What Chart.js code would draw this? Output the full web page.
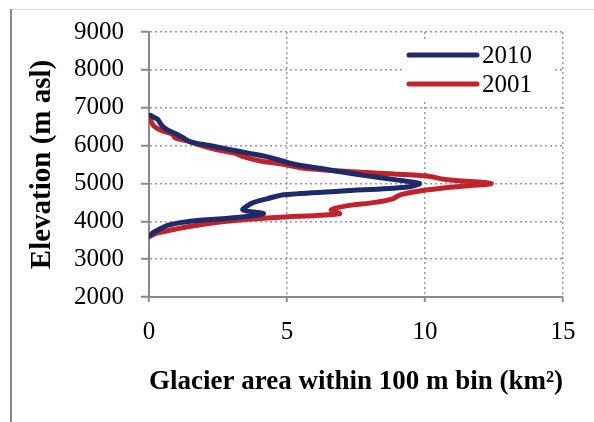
<!DOCTYPE html>
<html><head><meta charset="utf-8">
<style>
html,body{margin:0;padding:0;background:#fff;}
#wrap{position:relative;width:594px;height:422px;}
canvas{display:block;}
</style>
<script src="https://cdn.jsdelivr.net/npm/chart.js@4/dist/chart.umd.min.js"></script>
</head><body>
<div id="wrap"><canvas id="c" width="594" height="422"></canvas></div>
<script>
const elevations = [3600,3700,3800,3900,4000,4100,4200,4300,4400,4500,4600,4700,4800,4900,5000,5100,5200,5300,5400,5500,5600,5700,5800,5900,6000,6100,6200,6300,6400,6500,6600,6700,6800];
const area2010 = [0.0,0.15,0.4,0.7,1.5,3.2,4.15,3.4,3.55,3.8,4.3,4.9,7.0,9.3,9.8,8.9,7.9,7.0,6.2,5.3,4.8,4.3,3.6,2.9,2.2,1.5,1.25,1.0,0.7,0.5,0.4,0.3,0.05];
const area2001 = [0.0,0.35,1.0,1.8,2.8,4.6,6.9,6.6,7.1,8.2,8.85,9.1,9.8,10.9,12.4,10.8,10.0,7.5,5.6,4.9,4.0,3.45,3.1,2.4,1.9,1.5,0.95,0.85,0.45,0.2,0.1,0.05,null];
const seriesNames = ['2010','2001'];
const seriesColors = ['#1f2b68','#c0232b'];
const xTicks = [0,5,10,15];
const yTicks = [2000,3000,4000,5000,6000,7000,8000,9000];
const xTitle = 'Glacier area within 100 m bin (km²)';
const yTitle = 'Elevation (m asl)';

function pts(arr){
  const out=[];
  arr.forEach((v,i)=>{ if(v!==null) out.push({x:v,y:elevations[i]}); });
  return out;
}

const FONT='"Liberation Serif", "Times New Roman", serif';
const PAD={left:25,right:31,top:19,bottom:20};

const frame = {
  id:'frame',
  beforeDraw(chart){
    const ctx=chart.ctx;
    ctx.save();
    ctx.fillStyle='#fff';
    ctx.fillRect(0,0,chart.width,chart.height);
    ctx.strokeStyle='#dcdcdc';
    ctx.lineWidth=1;
    ctx.beginPath();ctx.moveTo(11,9.5);ctx.lineTo(chart.width,9.5);ctx.stroke();
    ctx.strokeStyle='#8a8a8a';
    ctx.lineWidth=2;
    ctx.beginPath();ctx.moveTo(11,9);ctx.lineTo(11,chart.height);ctx.stroke();
    ctx.restore();
  }
};

const legendBox = {
  id:'legendBox',
  afterDatasetsDraw(chart){
    const ctx=chart.ctx, a=chart.chartArea;
    ctx.save();
    ctx.fillStyle='#fff';
    ctx.fillRect(a.right-160, a.top+9, 150, 58);
    ctx.font='25px '+FONT;
    ctx.textBaseline='middle';
    ctx.textAlign='left';
    seriesNames.forEach((n,i)=>{
      const y=a.top+23+i*29;
      ctx.strokeStyle=seriesColors[i];
      ctx.lineWidth=5;
      ctx.lineCap='round';
      ctx.beginPath();ctx.moveTo(a.right-154,y);ctx.lineTo(a.right-86,y);ctx.stroke();
      ctx.fillStyle='#000';
      ctx.fillText(n,a.right-81,y+1);
    });
    ctx.restore();
  }
};

new Chart(document.getElementById('c'),{
  type:'scatter',
  data:{datasets:[
    {label:seriesNames[0],data:pts(area2010),showLine:true,borderColor:seriesColors[0],backgroundColor:seriesColors[0],borderWidth:5,pointRadius:0,tension:0.3,borderCapStyle:'round',borderJoinStyle:'round'},
    {label:seriesNames[1],data:pts(area2001),showLine:true,borderColor:seriesColors[1],backgroundColor:seriesColors[1],borderWidth:5,pointRadius:0,tension:0.3,borderCapStyle:'round',borderJoinStyle:'round'}
  ]},
  options:{
    responsive:false,animation:false,
    layout:{padding:PAD},
    plugins:{legend:{display:false},tooltip:{enabled:false}},
    scales:{
      x:{type:'linear',min:0,max:15,
        afterBuildTicks(s){s.ticks=xTicks.map(v=>({value:v}));},
        afterFit(s){s.height=422-297-PAD.bottom;},
        ticks:{font:{family:FONT,size:25},color:'#000',padding:15,callback:v=>String(v)},
        grid:{color:'#9a9a9a',lineWidth:1.5,drawTicks:true,tickLength:5,tickColor:'#8a8a8a',tickWidth:2},
        border:{display:true,color:'#8a8a8a',width:2,dash:[2,3]},
        title:{display:true,text:xTitle,font:{family:FONT,size:27,weight:'bold'},color:'#000',padding:{top:0,bottom:4}}
      },
      y:{type:'linear',min:2000,max:9000,
        afterBuildTicks(s){s.ticks=yTicks.map(v=>({value:v}));},
        afterFit(s){s.width=149-PAD.left;},
        ticks:{font:{family:FONT,size:25},color:'#000',padding:17,callback:v=>String(v)},
        grid:{color:'#9a9a9a',lineWidth:1.5,drawTicks:true,tickLength:8,tickColor:'#8a8a8a',tickWidth:2},
        border:{display:true,color:'#8a8a8a',width:2,dash:[2,3]},
        title:{display:true,text:yTitle,font:{family:FONT,size:29,weight:'bold'},color:'#000',padding:{top:0,bottom:0}}
      }
    }
  },
  plugins:[frame,legendBox]
});
</script>
</body></html>
